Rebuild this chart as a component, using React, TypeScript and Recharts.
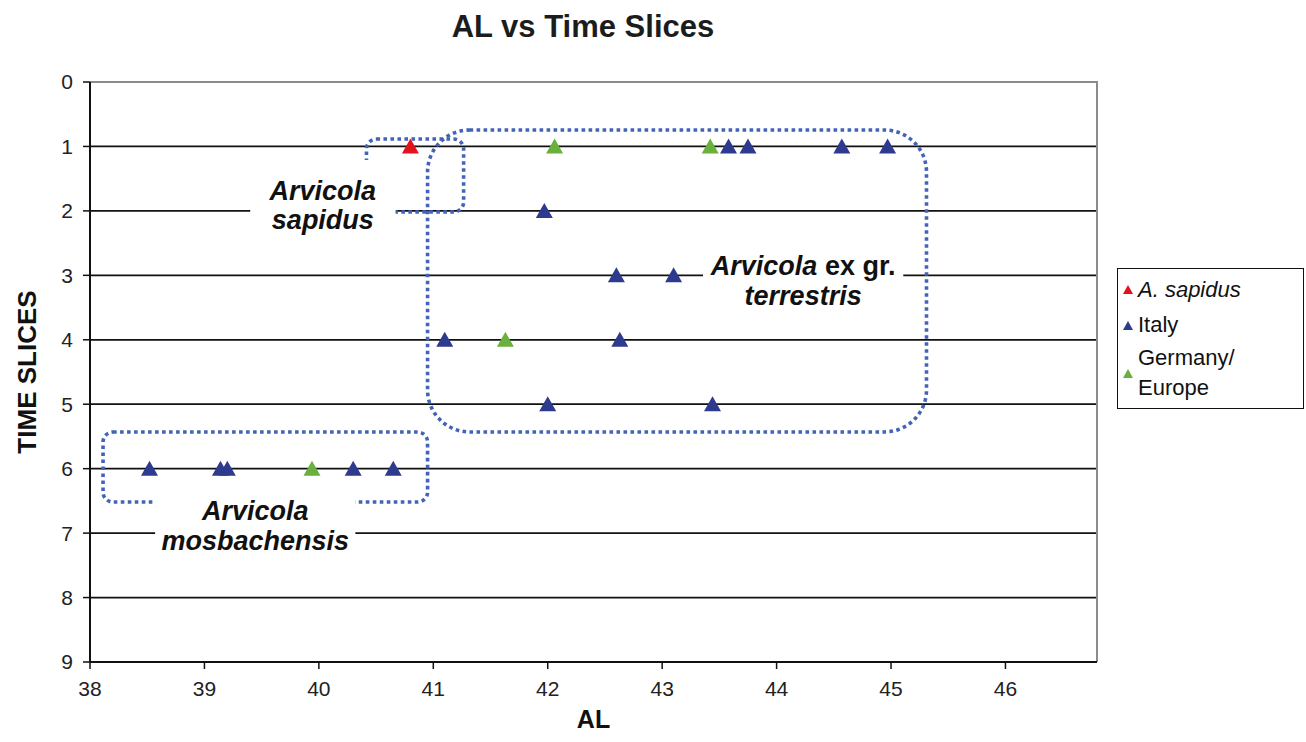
import {
  CartesianGrid,
  ReferenceArea,
  Scatter,
  ScatterChart,
  XAxis,
  YAxis,
} from "recharts";

// values
const sapidusAL = [40.8];
const sapidusSlice = [1];

const italyAL = [
  43.58, 43.75, 44.57, 44.97, 41.97, 42.6, 43.1, 41.1, 42.63, 42.0, 43.44,
  38.52, 39.14, 39.2, 40.3, 40.65,
];
const italySlice = [1, 1, 1, 1, 2, 3, 3, 4, 4, 5, 5, 6, 6, 6, 6, 6];

const germanyAL = [42.06, 43.42, 41.63, 39.94];
const germanySlice = [1, 1, 4, 6];

const alTicks = [38, 39, 40, 41, 42, 43, 44, 45, 46];
const sliceTicks = [0, 1, 2, 3, 4, 5, 6, 7, 8, 9];

const RED = "#e3131d";
const BLUE = "#2d3a8e";
const GREEN = "#69b03c";
const DOTS = "#4263b8";
const FONT = "'Liberation Sans', Arial, Helvetica, sans-serif";
const NARROW = "'Liberation Sans Narrow', 'Arial Narrow', 'Liberation Sans', Arial, sans-serif";

const toPoints = (al: number[], slice: number[]) =>
  al.map((v, i) => ({ al: v, slice: slice[i] }));

const sapidusData = toPoints(sapidusAL, sapidusSlice);
const italyData = toPoints(italyAL, italySlice);
const germanyData = toPoints(germanyAL, germanySlice);

const triangle = (color: string) => (props: any) => {
  const { cx, cy } = props;
  if (cx == null || cy == null) return <g />;
  return (
    <polygon
      points={`${cx},${cy - 8} ${cx - 8.5},${cy + 7} ${cx + 8.5},${cy + 7}`}
      fill={color}
    />
  );
};

const dottedBox = (radius: number) => (props: any) => {
  const { x, y, width, height } = props;
  return (
    <rect
      x={x}
      y={y}
      width={width}
      height={height}
      rx={radius}
      ry={radius}
      fill="none"
      stroke={DOTS}
      strokeWidth={3.6}
      strokeDasharray="3.6 3.4"
    />
  );
};

const plotBorder = (props: any) => {
  const { x, y, width, height } = props;
  return (
    <path
      d={`M${x},${y} H${x + width} V${y + height}`}
      fill="none"
      stroke="#8c8c8c"
      strokeWidth={2}
    />
  );
};

const labelStyle = {
  fontFamily: FONT,
  fontSize: 27,
  fontWeight: 700,
  fill: "#111",
};

// white text box with two lines, like the drawn callouts in the source figure
const textBox =
  (lines: React.ReactNode[], offsets: number[]) => (props: any) => {
    const { x, y, width, height } = props;
    const cx = x + width / 2;
    return (
      <g>
        <rect x={x} y={y} width={width} height={height} fill="#fff" />
        {lines.map((line, i) => (
          <text
            key={i}
            x={cx}
            y={y + offsets[i]}
            textAnchor="middle"
            dominantBaseline="central"
            style={labelStyle}
          >
            {line}
          </text>
        ))}
      </g>
    );
  };

const legendItems = [
  { color: RED, lines: ["A. sapidus"], italic: true, top: 21, marker: 21 },
  { color: BLUE, lines: ["Italy"], italic: false, top: 56, marker: 57 },
  { color: GREEN, lines: ["Germany/", "Europe"], italic: false, top: 89, marker: 105 },
];

function Legend() {
  return (
    <div
      style={{
        position: "absolute",
        left: 1117,
        top: 268,
        width: 187,
        height: 141,
        boxSizing: "border-box",
        border: "1.5px solid #111",
        background: "#fff",
        fontFamily: FONT,
        fontSize: 22,
        color: "#111",
      }}
    >
      {legendItems.map((item) => (
        <div key={item.lines[0]}>
          <svg
            width={10}
            height={9}
            style={{ position: "absolute", left: 5, top: item.marker - 5 }}
          >
            <polygon points="5,0 0,9 10,9" fill={item.color} />
          </svg>
          {item.lines.map((line, i) => (
            <div
              key={line}
              style={{
                position: "absolute",
                left: 20,
                top: item.top + i * 30 - 13,
                lineHeight: "26px",
                fontStyle: item.italic ? "italic" : "normal",
                whiteSpace: "nowrap",
              }}
            >
              {line}
            </div>
          ))}
        </div>
      ))}
    </div>
  );
}

export default function App() {
  return (
    <div
      style={{
        position: "absolute",
        left: 0,
        top: 0,
        width: 1306,
        height: 742,
        background: "#fff",
      }}
    >
      <div
        style={{
          position: "absolute",
          left: 383,
          width: 400,
          top: 8,
          textAlign: "center",
          fontFamily: FONT,
          fontWeight: 700,
          fontSize: 31,
          lineHeight: "38px",
          color: "#1c1c1c",
        }}
      >
        AL vs Time Slices
      </div>
      <ScatterChart
        width={1306}
        height={742}
        margin={{ top: 82, right: 209, bottom: 0, left: 0 }}
      >
        <CartesianGrid vertical={false} stroke="#111" strokeWidth={1.8} />
        <XAxis
          type="number"
          dataKey="al"
          domain={[38, 46.8]}
          ticks={alTicks}
          height={80}
          tickSize={7}
          tickMargin={12}
          axisLine={{ stroke: "#111", strokeWidth: 2 }}
          tickLine={{ stroke: "#111", strokeWidth: 1.5 }}
          tick={{ fill: "#222", fontSize: 21, fontFamily: NARROW }}
          label={{
            value: "AL",
            position: "insideBottom",
            offset: 14,
            style: { fontFamily: FONT, fontSize: 25, fontWeight: 700, fill: "#111" },
          }}
        />
        <YAxis
          type="number"
          dataKey="slice"
          domain={[0, 9]}
          ticks={sliceTicks}
          reversed
          width={90}
          tickSize={7}
          tickMargin={10}
          axisLine={{ stroke: "#111", strokeWidth: 2 }}
          tickLine={{ stroke: "#111", strokeWidth: 1.5 }}
          tick={{ fill: "#222", fontSize: 21, fontFamily: NARROW }}
          label={{
            value: "TIME SLICES",
            angle: -90,
            position: "insideLeft",
            offset: 27,
            style: {
              textAnchor: "middle",
              fontFamily: FONT,
              fontSize: 26,
              fontWeight: 700,
              fill: "#111",
            },
          }}
        />
        <ReferenceArea x1={38} x2={46.8} y1={0} y2={9} shape={plotBorder} />

        <ReferenceArea x1={40.95} x2={45.31} y1={0.745} y2={5.43} shape={dottedBox(42)} />
        <ReferenceArea x1={38.114} x2={40.95} y1={5.431} y2={6.518} shape={dottedBox(10)} />
        <ReferenceArea x1={40.416} x2={41.265} y1={0.885} y2={2.017} shape={dottedBox(10)} />

        <ReferenceArea
          x1={39.4}
          x2={40.67}
          y1={1.21}
          y2={2.45}
          shape={textBox(
            [
              <tspan fontStyle="italic">Arvicola</tspan>,
              <tspan fontStyle="italic">sapidus</tspan>,
            ],
            [31, 60],
          )}
        />
        <ReferenceArea
          x1={38.569}
          x2={40.319}
          y1={6.331}
          y2={7.356}
          shape={textBox(
            [
              <tspan fontStyle="italic">Arvicola</tspan>,
              <tspan fontStyle="italic">mosbachensis</tspan>,
            ],
            [21, 51],
          )}
        />
        <ReferenceArea
          x1={43.357}
          x2={45.107}
          y1={2.638}
          y2={3.569}
          shape={textBox(
            [
              <>
                <tspan fontStyle="italic">Arvicola</tspan>
                <tspan> ex gr.</tspan>
              </>,
              <tspan fontStyle="italic">terrestris</tspan>,
            ],
            [14, 44],
          )}
        />

        <Scatter
          name="A. sapidus"
          data={sapidusData}
          shape={triangle(RED)}
          isAnimationActive={false}
        />
        <Scatter
          name="Italy"
          data={italyData}
          shape={triangle(BLUE)}
          isAnimationActive={false}
        />
        <Scatter
          name="Germany/Europe"
          data={germanyData}
          shape={triangle(GREEN)}
          isAnimationActive={false}
        />
      </ScatterChart>
      <Legend />
    </div>
  );
}
